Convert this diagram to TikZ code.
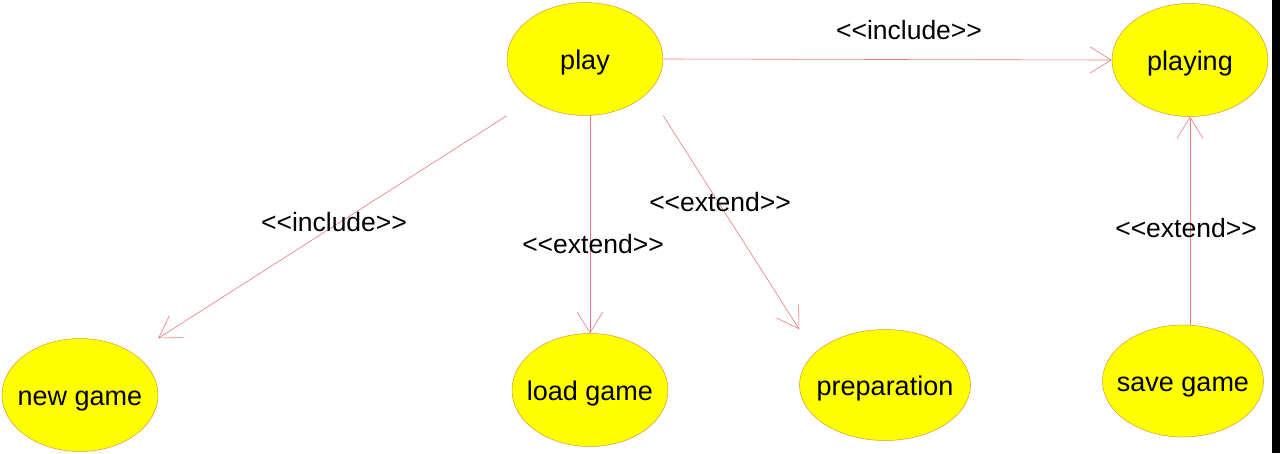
\documentclass[tikz,border=0pt]{standalone}
\usepackage{fontspec}
\setmainfont{Liberation Sans}[Ligatures=TeXOff]
\usepackage{tikz}
\usetikzlibrary{shapes.geometric, arrows.meta}
\definecolor{monJaune}{RGB}{255, 255, 0}
\definecolor{monOrange}{RGB}{215, 150, 60}
\definecolor{monRose}{RGB}{232, 120, 130}

\begin{document}
\begin{tikzpicture}[x=1pt, y=-1pt,
        cas/.style={ellipse, draw=monOrange, line width=0.5pt, fill=monJaune,
            minimum width=156pt, minimum height=113pt, inner sep=0pt,
            text height=20pt, text depth=0pt,
            font=\fontsize{27}{30}\selectfont},
        lien/.style={draw=monRose, line width=0.6pt,
            -{Straight Barb[length=21pt, width=26pt]}},
        etiq/.style={font=\fontsize{26.5}{30}\selectfont}]
        % Cadre
        \useasboundingbox (0,0) rectangle (1280,453);
        \fill[black] (1272,0) rectangle (1280,453);
        
        % Cas d'utilisation
        \node[cas] (play) at (585,59) {\clap{play}};
        \node[cas] (playing) at (1190,60) {\clap{playing}};
        \node[cas] (newgame) at (80,395) {\clap{new game}};
        \node[cas] (loadgame) at (590,390) {\clap{load game}};
        \node[cas, minimum width=171pt, minimum height=111pt] (preparation) at (885,385) {\clap{preparation}};
        \node[cas, minimum width=161pt, minimum height=112pt] (savegame) at (1183,381) {\clap{save game}};
        
        % Liens
        \draw[lien] (play.east) -- (playing.west);
        \draw[lien] (play.west |- play.south) -- (newgame.east |- newgame.north);
        \draw[lien] (loadgame.north |- play.south) -- (loadgame.north);
        \draw[lien] (play.east |- play.south) -- (preparation.west |- preparation.north);
        \draw[lien] (playing.south |- savegame.north) -- (playing.south);
        
        % Etiquettes
        \node[etiq] (inclPlaying) at (909,30) {<<include>>};
        \node[etiq] (inclNew) at (334,222) {<<include>>};
        \node[etiq] (extLoad) at (593,244) {<<extend>>};
        \node[etiq] (extPrep) at (720,202) {<<extend>>};
        \node[etiq] (extSave) at (1186,228) {<<extend>>};
    \end{tikzpicture}
\end{document}
